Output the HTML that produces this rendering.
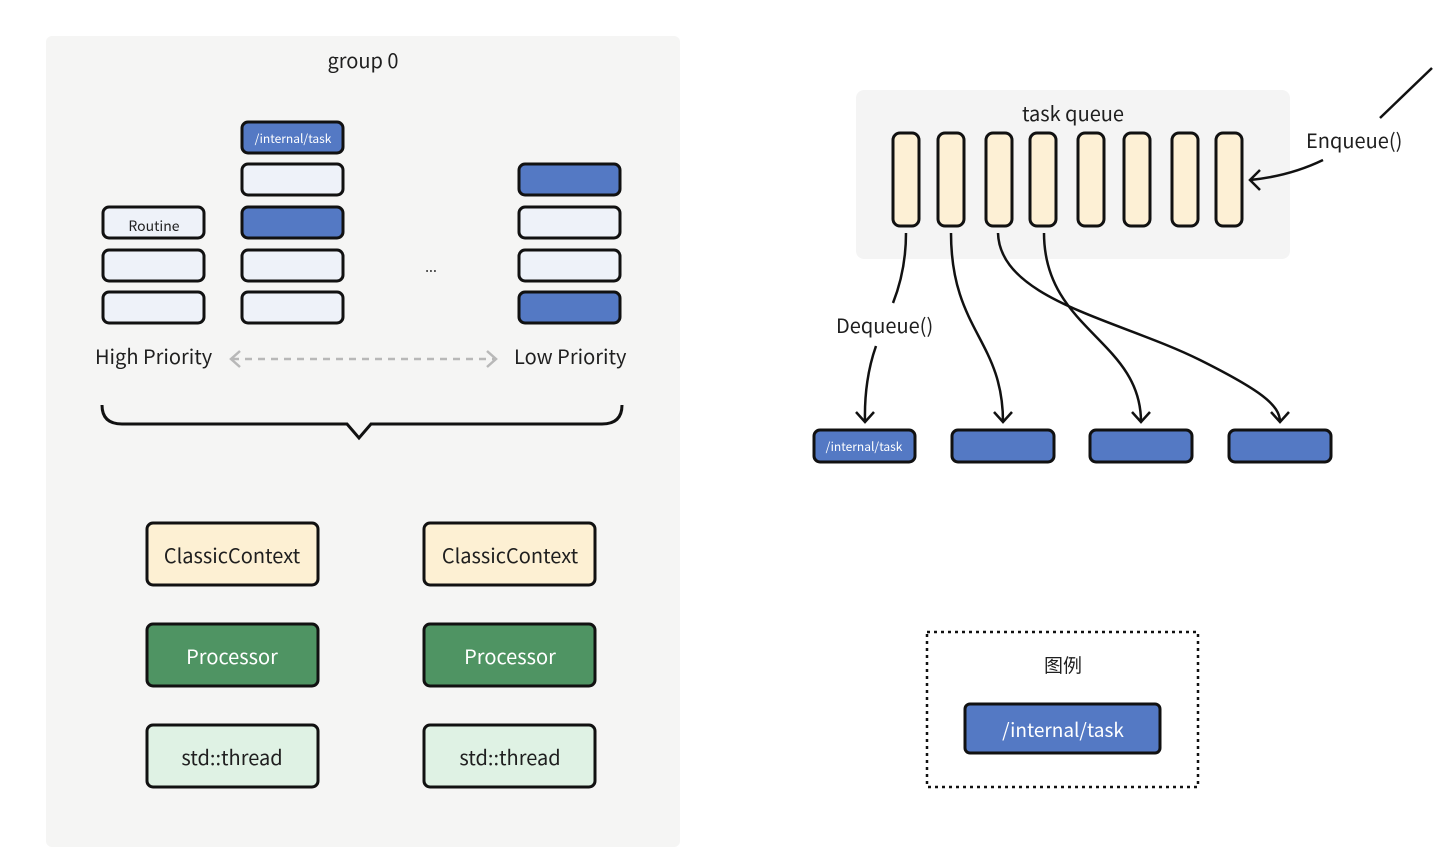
<!DOCTYPE html>
<html><head><meta charset="utf-8"><style>
html,body{margin:0;padding:0;background:#fff;}
svg{display:block;}
text{font-family:"Noto Sans CJK SC","Liberation Sans",sans-serif;fill:#1f1f1f;}
</style></head><body>
<svg width="1453" height="863" viewBox="0 0 1453 863" xmlns="http://www.w3.org/2000/svg">
<rect x="46" y="36" width="634" height="811" rx="6" fill="#f5f5f4"/>
<text x="363" y="68" font-size="20" text-anchor="middle">group 0</text>

<g stroke="#111" stroke-width="3">
<rect x="103" y="207" width="101" height="31" rx="6" fill="#eef2f9"/>
<rect x="103" y="250" width="101" height="31" rx="6" fill="#eef2f9"/>
<rect x="103" y="292" width="101" height="31" rx="6" fill="#eef2f9"/>
<rect x="242" y="122" width="101" height="31" rx="6" fill="#5479c4"/>
<rect x="242" y="164" width="101" height="31" rx="6" fill="#eef2f9"/>
<rect x="242" y="207" width="101" height="31" rx="6" fill="#5479c4"/>
<rect x="242" y="250" width="101" height="31" rx="6" fill="#eef2f9"/>
<rect x="242" y="292" width="101" height="31" rx="6" fill="#eef2f9"/>
<rect x="519" y="164" width="101" height="31" rx="6" fill="#5479c4"/>
<rect x="519" y="207" width="101" height="31" rx="6" fill="#eef2f9"/>
<rect x="519" y="250" width="101" height="31" rx="6" fill="#eef2f9"/>
<rect x="519" y="292" width="101" height="31" rx="6" fill="#5479c4"/>
</g>
<text x="154" y="231" font-size="14" text-anchor="middle">Routine</text>
<text x="293" y="143" font-size="12" text-anchor="middle" style="fill:#fff">/internal/task</text>
<text x="431" y="272" font-size="14" text-anchor="middle">...</text>

<text x="95" y="364" font-size="20">High Priority</text>
<text x="514" y="364" font-size="20">Low Priority</text>
<g stroke="#b8b8b8" stroke-width="2.5" fill="none">
<line x1="232" y1="359" x2="494" y2="359" stroke-dasharray="7,6"/>
<polyline points="240,351 231,359 240,367"/>
<polyline points="487,351 496,359 487,367"/>
</g>
<path d="M102,405 Q102,424 122,424 L347,424 L359,438 L371,424 L602,424 Q622,424 622,405" fill="none" stroke="#111" stroke-width="3"/>

<g stroke="#111" stroke-width="3">
<rect x="147" y="523" width="171" height="62" rx="6" fill="#fdf0d3"/>
<rect x="424" y="523" width="171" height="62" rx="6" fill="#fdf0d3"/>
<rect x="147" y="624" width="171" height="62" rx="6" fill="#4f9463"/>
<rect x="424" y="624" width="171" height="62" rx="6" fill="#4f9463"/>
<rect x="147" y="725" width="171" height="62" rx="6" fill="#dff2e4"/>
<rect x="424" y="725" width="171" height="62" rx="6" fill="#dff2e4"/>
</g>
<g font-size="20" text-anchor="middle">
<text x="232" y="563">ClassicContext</text>
<text x="510" y="563">ClassicContext</text>
<text x="232" y="664" style="fill:#fff">Processor</text>
<text x="510" y="664" style="fill:#fff">Processor</text>
<text x="232" y="765">std::thread</text>
<text x="510" y="765">std::thread</text>
</g>

<rect x="856" y="90" width="434" height="169" rx="8" fill="#f4f4f4"/>
<text x="1073" y="121" font-size="20" text-anchor="middle">task queue</text>
<g stroke="#111" stroke-width="3" fill="#fdf0d5">
<rect x="893" y="133" width="26" height="93" rx="7"/>
<rect x="938" y="133" width="26" height="93" rx="7"/>
<rect x="986" y="133" width="26" height="93" rx="7"/>
<rect x="1030" y="133" width="26" height="93" rx="7"/>
<rect x="1078" y="133" width="26" height="93" rx="7"/>
<rect x="1124" y="133" width="26" height="93" rx="7"/>
<rect x="1172" y="133" width="26" height="93" rx="7"/>
<rect x="1216" y="133" width="26" height="93" rx="7"/>
</g>

<g stroke="#111" stroke-width="2.5" fill="none">
<line x1="1432" y1="68" x2="1380" y2="118"/>
<path d="M1323,160 Q1290,176 1250,180"/>
<polyline points="1260,170 1250,180 1260,190"/>
<path d="M906,233 Q906,270 893,303"/>
<path d="M876,346 Q864,380 865,422"/>
<polyline points="856,412 865,422 874,412"/>
<path d="M951,233 C951,330 1003,340 1003,422"/>
<polyline points="994,412 1003,422 1012,412"/>
<path d="M1044,233 C1044,330 1141,340 1141,422"/>
<polyline points="1132,412 1141,422 1150,412"/>
<path d="M998,233 C1000,300 1120,320 1200,360 C1260,390 1280,405 1280,422"/>
<polyline points="1271,412 1280,422 1289,412"/>
</g>
<text x="1306" y="148" font-size="20">Enqueue()</text>
<text x="836" y="333" font-size="20">Dequeue()</text>

<g stroke="#111" stroke-width="3" fill="#5479c4">
<rect x="814" y="430" width="101" height="32" rx="6"/>
<rect x="952" y="430" width="102" height="32" rx="6"/>
<rect x="1090" y="430" width="102" height="32" rx="6"/>
<rect x="1229" y="430" width="102" height="32" rx="6"/>
</g>
<text x="864" y="451" font-size="12" text-anchor="middle" style="fill:#fff">/internal/task</text>

<rect x="927" y="632" width="271" height="155" fill="none" stroke="#111" stroke-width="2.5" stroke-dasharray="3,4"/>
<text x="1063" y="672" font-size="19" text-anchor="middle">图例</text>
<rect x="965" y="704" width="195" height="49" rx="5" fill="#5479c4" stroke="#111" stroke-width="3"/>
<text x="1063" y="737" font-size="19" text-anchor="middle" style="fill:#fff">/internal/task</text>
</svg>
</body></html>
